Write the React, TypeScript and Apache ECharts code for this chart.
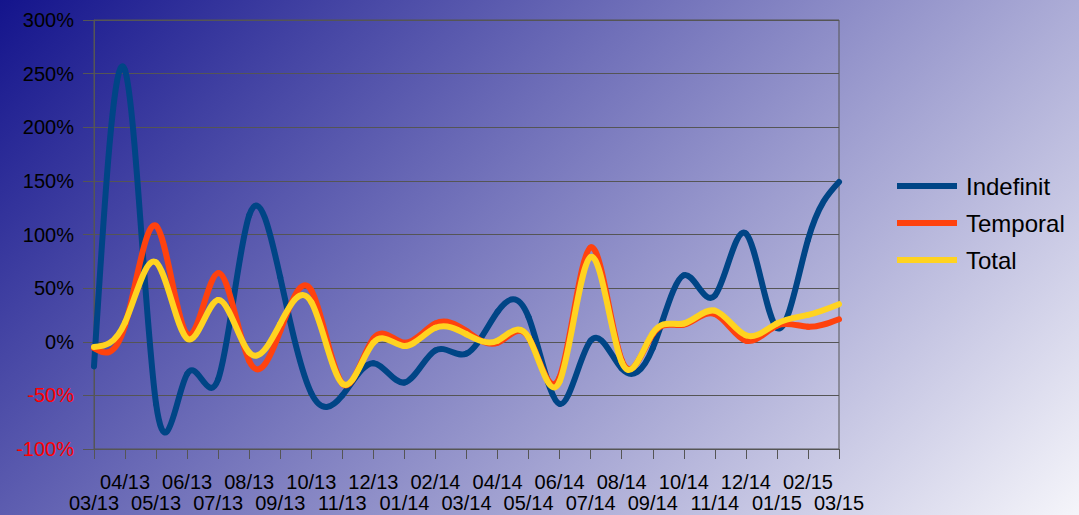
import React, { useEffect, useRef } from "react";
import * as echarts from "echarts";

const months = [
  "03/13", "04/13", "05/13", "06/13", "07/13", "08/13", "09/13", "10/13", "11/13",
  "12/13", "01/14", "02/14", "03/14", "04/14", "05/14", "06/14", "07/14", "08/14",
  "09/14", "10/14", "11/14", "12/14", "01/15", "02/15", "03/15",
];

const indefinit = [
  -23, 253, -58, -30, -35, 118, 60, -48, -50, -20, -38, -8, -11, 28, 23, -58, 1, -25,
  -6, 62, 43, 101, 13, 95, 149,
];
const temporal = [
  -6, 15, 108, 7, 64, -18, 10, 48, -39, 3, -1, 17, 10, -1, 4, -33, 88, -17, 7, 16, 26,
  1, 15, 14, 21,
];
const total = [
  -5, 18, 74, 3, 39, -10, 17, 37, -39, -1, -4, 13, 7, 1, 4, -37, 79, -19, 8, 17, 29, 6,
  17, 25, 35,
];

const yTicks = { min: -100, max: 300, interval: 50 };

const seriesDefs = [
  { name: "Indefinit", values: indefinit, color: "#004586" },
  { name: "Temporal", values: temporal, color: "#ff420e" },
  { name: "Total", values: total, color: "#ffd320" },
];

// natural cubic spline slopes for uniformly spaced points (h = 1)
function splineSlopes(ys: number[]): number[] {
  const n = ys.length;
  const M = new Array(n).fill(0);
  const m = n - 2;
  if (m > 0) {
    const cp = new Array(m).fill(0);
    const dp = new Array(m).fill(0);
    for (let k = 0; k < m; k++) {
      const i = k + 1;
      const d = 6 * (ys[i + 1] - 2 * ys[i] + ys[i - 1]);
      if (k === 0) {
        cp[k] = 1 / 4;
        dp[k] = d / 4;
      } else {
        const den = 4 - cp[k - 1];
        cp[k] = 1 / den;
        dp[k] = (d - dp[k - 1]) / den;
      }
    }
    for (let k = m - 1; k >= 0; k--) {
      M[k + 1] = dp[k] - (k < m - 1 ? cp[k] * M[k + 2] : 0);
    }
  }
  const s = new Array(n).fill(0);
  for (let i = 0; i < n - 1; i++) {
    s[i] = ys[i + 1] - ys[i] - (2 * M[i] + M[i + 1]) / 6;
  }
  s[n - 1] = ys[n - 1] - ys[n - 2] + (M[n - 2] + 2 * M[n - 1]) / 6;
  return s;
}

export default function App() {
  const ref = useRef<HTMLDivElement>(null);

  useEffect(() => {
    if (!ref.current) return;
    const chart = echarts.init(ref.current, undefined, { renderer: "svg" });
    const font = "Liberation Sans";
    const gridColor = "#555555";

    const series = seriesDefs.map((def) => {
      const slopes = splineSlopes(def.values);
      return {
        type: "custom",
        name: def.name,
        xAxisIndex: 0,
        data: def.values.map((v, i) => [i, v]),
        encode: { x: 0, y: 1 },
        itemStyle: { color: def.color },
        renderItem: (params: any, api: any) => {
          const i = params.dataIndex;
          const vals = def.values;
          if (i >= vals.length - 1) return null;
          const p0 = api.coord([i, vals[i]]);
          const p1 = api.coord([i + 1, vals[i + 1]]);
          const dx = (p1[0] - p0[0]) / 3;
          const c1y = api.coord([i, vals[i] + slopes[i] / 3])[1];
          const c2y = api.coord([i + 1, vals[i + 1] - slopes[i + 1] / 3])[1];
          return {
            type: "bezierCurve",
            shape: {
              x1: p0[0], y1: p0[1],
              x2: p1[0], y2: p1[1],
              cpx1: p0[0] + dx, cpy1: c1y,
              cpx2: p1[0] - dx, cpy2: c2y,
            },
            style: { stroke: def.color, lineWidth: 6, fill: null, lineCap: "round" },
          };
        },
      };
    });

    const labelBase = {
      interval: 0,
      color: "#000",
      fontSize: 20,
      fontFamily: font,
      lineHeight: 18,
    };

    chart.setOption({
      animation: false,
      backgroundColor: "transparent",
      textStyle: { fontFamily: font },
      grid: {
        left: 94,
        right: 240,
        top: 20,
        bottom: 66,
        containLabel: false,
        outerBoundsMode: "none",
        show: true,
        borderColor: gridColor,
        borderWidth: 1,
        backgroundColor: "transparent",
      },
      legend: {
        orient: "vertical",
        left: 897,
        top: 172,
        padding: 0,
        itemWidth: 60,
        itemHeight: 6,
        itemGap: 9,
        textStyle: { fontSize: 24, color: "#000", fontFamily: font, lineHeight: 28, padding: [0, 0, 0, 4] },
        data: seriesDefs.map((d) => ({ name: d.name, icon: "rect", itemStyle: { color: d.color } })),
      },
      xAxis: [
        {
          type: "category",
          data: months,
          boundaryGap: false,
          position: "bottom",
          axisLine: { show: true, onZero: false, lineStyle: { color: gridColor, width: 1 } },
          axisTick: { show: true, interval: 0, length: 10, lineStyle: { color: gridColor } },
          axisLabel: {
            ...labelBase,
            margin: 24,
            formatter: (val: string, idx: number) => (idx % 2 === 1 ? val : ""),
          },
          splitLine: { show: false },
        },
        {
          type: "category",
          data: months,
          boundaryGap: false,
          position: "bottom",
          offset: 0,
          axisLine: { show: false, onZero: false },
          axisTick: { show: false },
          axisLabel: {
            ...labelBase,
            margin: 45,
            formatter: (val: string, idx: number) => (idx % 2 === 0 ? val : ""),
          },
          splitLine: { show: false },
        },
      ],
      yAxis: {
        type: "value",
        min: yTicks.min,
        max: yTicks.max,
        interval: yTicks.interval,
        axisLine: { show: true, lineStyle: { color: gridColor, width: 1 } },
        axisTick: { show: true, length: 11, lineStyle: { color: gridColor } },
        axisLabel: {
          fontSize: 20,
          fontFamily: font,
          margin: 20,
          formatter: (v: number) => v + "%",
          color: (v: any) => (Number(v) < 0 ? "#ff0000" : "#000000"),
        },
        splitLine: { show: true, lineStyle: { color: gridColor, width: 1 } },
      },
      series,
    } as any);

    return () => chart.dispose();
  }, []);

  return (
    <div
      style={{
        position: "fixed",
        left: 0,
        top: 0,
        width: 1079,
        height: 515,
        background: "linear-gradient(135deg, rgb(20,20,140) 0%, rgb(245,245,250) 100%)",
      }}
    >
      <div ref={ref} style={{ width: 1079, height: 515 }} />
    </div>
  );
}
